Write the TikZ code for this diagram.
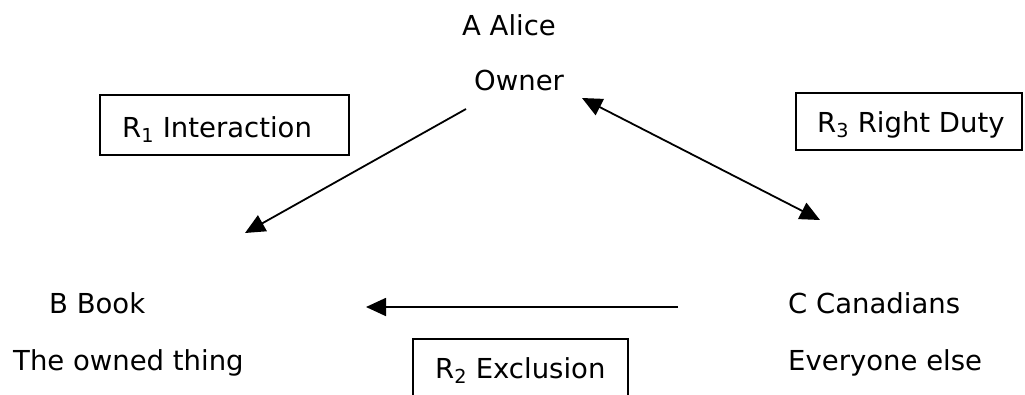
\documentclass[tikz,border=0pt]{standalone}
\usepackage{fontspec}
\setmainfont{DejaVu Sans}
\usetikzlibrary{arrows.meta}
\begin{document}
\begin{tikzpicture}[x=1pt,y=-1pt,
  every node/.style={inner sep=0pt, font=\fontsize{27.5}{33}\selectfont},
  lbl/.style={anchor=base west},
  relbox/.style={draw, line width=1.8pt},
  tip/.style={Triangle[length=20pt,width=18pt]},
  conn/.style={line width=1.8pt, -{Triangle[length=20pt,width=18pt]}},
  both/.style={line width=1.8pt, {Triangle[length=20pt,width=18pt]}-{Triangle[length=20pt,width=18pt]}}]
\useasboundingbox (0,0) rectangle (1025,394);

% parties
\node[lbl] (alice) at (462,35) {A Alice};
\node[lbl] (owner) at (474,90) {Owner};
\node[lbl] (book) at (49,313) {B Book};
\node[lbl] (thing) at (13,370) {The owned thing};
\node[lbl] (canad) at (788,313) {C Canadians};
\node[lbl] (else) at (788,370) {Everyone else};

% relation boxes
\draw[relbox] (100,95) rectangle (349,155);
\node[lbl] (r1) at (122,137) {R\textsubscript{1} Interaction};
\draw[relbox] (796,93) rectangle (1022,150);
\node[lbl] (r3) at (817,132) {R\textsubscript{3} Right Duty};
\draw[relbox] (413,396) -- (413,339) -- (628,339) -- (628,396);
\node[lbl] (r2) at (435,378) {R\textsubscript{2} Exclusion};

% connector ends
\coordinate (a1) at (466,109);
\coordinate (b1) at (245,233);
\coordinate (a2) at (582,98);
\coordinate (c2) at (820,220);
\coordinate (c3) at (678,307);
\coordinate (b3) at (366,307);

\draw[conn] (a1) -- (b1);
\draw[both] (a2) -- (c2);
\draw[conn] (c3) -- (b3);
\end{tikzpicture}
\end{document}
